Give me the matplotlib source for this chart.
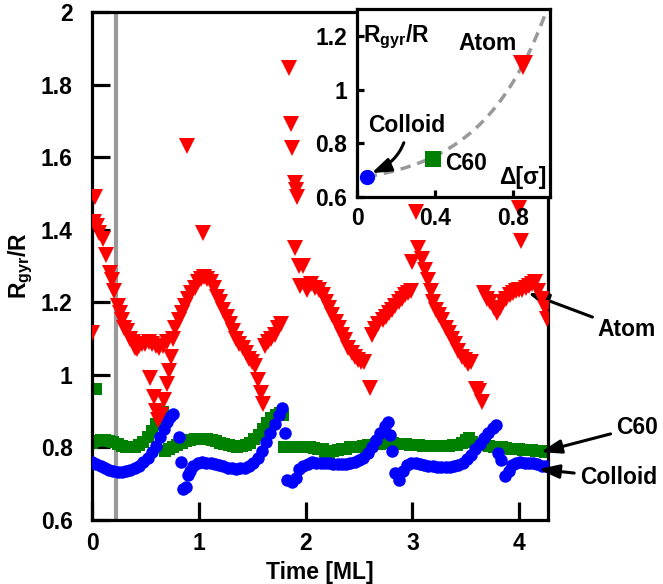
import numpy as np
import matplotlib
matplotlib.use("Agg")
import matplotlib.pyplot as plt

plt.rcParams['font.family'] = ['Liberation Sans', 'DejaVu Sans']
plt.rcParams['font.weight'] = 'bold'
plt.rcParams['mathtext.fontset'] = 'custom'
plt.rcParams['mathtext.rm'] = 'Liberation Sans:bold'
plt.rcParams['mathtext.it'] = 'Liberation Sans:bold'
plt.rcParams['mathtext.bf'] = 'Liberation Sans:bold'
plt.rcParams['mathtext.default'] = 'rm'

# Rgyr/R vs deposited amount, atom island
atom_t = [0.00, 0.03, 0.02, 0.05, 0.07, 0.10, 0.13, 0.17, 0.19, 0.21, 0.24, 0.26, 0.28,
          0.30, 0.33, 0.36, 0.38, 0.40, 0.42, 0.44, 0.47, 0.50, 0.53, 0.56, 0.60, 0.63,
          0.66, 0.70, 0.54, 0.58, 0.60, 0.62, 0.65, 0.67, 0.70, 0.72, 0.74, 0.76, 0.78,
          0.81, 0.84, 0.87, 0.90, 0.93, 0.96, 0.99, 1.02, 1.05, 1.08, 0.89, 1.04,
          1.11, 1.14, 1.17, 1.20, 1.23, 1.26, 1.29, 1.32, 1.35, 1.38, 1.41, 1.44, 1.47,
          1.50, 1.53, 1.55, 1.58, 1.60, 1.62, 1.65, 1.68, 1.71, 1.74, 1.77,
          1.84, 1.86, 1.87, 1.90, 1.91, 1.92, 1.90, 1.94, 1.98, 1.95, 2.01,
          2.05, 2.09, 2.13, 2.16, 2.19, 2.22, 2.25, 2.28, 2.31, 2.34, 2.37, 2.40, 2.43,
          2.46, 2.49, 2.52, 2.55, 2.60, 2.62, 2.65, 2.68, 2.72, 2.75, 2.78, 2.81, 2.84,
          2.87, 2.90, 2.93, 2.96, 2.99, 3.03, 3.05, 3.09, 3.00, 3.12, 3.15,
          3.17, 3.19, 3.22, 3.25, 3.28, 3.31, 3.34, 3.37, 3.40, 3.43, 3.46, 3.49, 3.52,
          3.55, 3.60, 3.62, 3.65, 3.67, 3.70, 3.73, 3.76, 3.79, 3.82, 3.85, 3.88, 3.91,
          3.94, 3.97, 4.00, 4.03, 4.06, 4.09, 4.12, 4.15, 4.18, 4.21, 4.24, 4.26,
          4.00, 4.02]
atom_r = [1.115, 1.49, 1.42, 1.41, 1.39, 1.375, 1.33, 1.28, 1.26, 1.23, 1.19, 1.17, 1.15,
          1.13, 1.12, 1.10, 1.09, 1.075, 1.07, 1.08, 1.085, 1.085, 1.09, 1.085, 1.08, 1.075,
          1.08, 1.09, 0.99, 0.94, 0.90, 0.875, 0.89, 0.93, 0.975, 1.01, 1.05, 1.10, 1.13,
          1.15, 1.17, 1.19, 1.21, 1.225, 1.24, 1.255, 1.265, 1.27, 1.265, 1.63, 1.39,
          1.255, 1.24, 1.215, 1.20, 1.18, 1.16, 1.14, 1.12, 1.10, 1.085, 1.075, 1.06, 1.045,
          1.035, 1.025, 0.985, 0.95, 0.92, 1.08, 1.09, 1.10, 1.11, 1.13, 1.14,
          1.845, 1.69, 1.625, 1.53, 1.51, 1.49, 1.35, 1.30, 1.30, 1.245, 1.235,
          1.25, 1.24, 1.235, 1.22, 1.20, 1.185, 1.165, 1.145, 1.13, 1.11, 1.095, 1.075, 1.06,
          1.05, 1.04, 1.035, 1.035, 0.965, 1.11, 1.125, 1.14, 1.15, 1.16, 1.17, 1.18, 1.19,
          1.20, 1.21, 1.22, 1.225, 1.23, 1.45, 1.35, 1.32, 1.31, 1.29, 1.26,
          1.23, 1.20, 1.18, 1.165, 1.15, 1.13, 1.115, 1.10, 1.085, 1.065, 1.05, 1.04, 1.03,
          1.035, 0.96, 0.955, 0.925, 1.225, 1.21, 1.20, 1.185, 1.17, 1.185, 1.20, 1.21,
          1.22, 1.225, 1.23, 1.235, 1.235, 1.24, 1.245, 1.25, 1.255, 1.23, 1.21, 1.185,
          1.155, 1.46, 1.37]

# C60 island
c60_t = [0.04, 0.00, 0.04, 0.08, 0.12, 0.16, 0.20, 0.24, 0.28, 0.32, 0.36, 0.40, 0.44,
         0.48, 0.52, 0.56, 0.60, 0.63, 0.66, 0.68, 0.72, 0.76, 0.80, 0.84, 0.88, 0.92,
         0.96, 1.00, 1.04, 1.08, 1.12, 1.16, 1.20, 1.24, 1.28, 1.32, 1.36, 1.40, 1.44,
         1.48, 1.52, 1.56, 1.60, 1.64, 1.68, 1.72, 1.76, 1.79, 1.80, 1.84, 1.88, 1.92,
         1.96, 2.00, 2.04, 2.08, 2.12, 2.16, 2.18, 2.22, 2.26, 2.30, 2.34, 2.38, 2.42,
         2.46, 2.50, 2.54, 2.58, 2.62, 2.66, 2.70, 2.74, 2.78, 2.82, 2.86, 2.90, 2.94,
         2.98, 3.02, 3.06, 3.10, 3.14, 3.18, 3.22, 3.26, 3.30, 3.34, 3.38, 3.42, 3.46,
         3.50, 3.53, 3.56, 3.60, 3.64, 3.68, 3.72, 3.76, 3.80, 3.84, 3.88, 3.92, 3.96,
         4.00, 4.04, 4.08, 4.12, 4.16, 4.20, 4.24, 4.28]
c60_r = [0.96, 0.812, 0.818, 0.82, 0.82, 0.818, 0.815, 0.81, 0.805, 0.80, 0.80, 0.802, 0.808,
         0.815, 0.828, 0.845, 0.865, 0.885, 0.898, 0.79, 0.795, 0.80, 0.808, 0.813, 0.818, 0.82,
         0.822, 0.823, 0.823, 0.822, 0.82, 0.817, 0.813, 0.81, 0.806, 0.803, 0.802, 0.803, 0.806,
         0.812, 0.822, 0.835, 0.85, 0.866, 0.88, 0.89, 0.895, 0.89, 0.80, 0.80, 0.80, 0.80,
         0.80, 0.80, 0.80, 0.798, 0.795, 0.795, 0.775, 0.785, 0.79, 0.792, 0.795, 0.797, 0.80,
         0.80, 0.802, 0.804, 0.806, 0.808, 0.81, 0.81, 0.811, 0.812, 0.812, 0.81, 0.81, 0.81,
         0.808, 0.807, 0.806, 0.805, 0.804, 0.803, 0.803, 0.803, 0.803, 0.804, 0.806, 0.808, 0.812,
         0.82, 0.826, 0.815, 0.81, 0.808, 0.806, 0.804, 0.802, 0.80, 0.80, 0.798, 0.797, 0.796,
         0.795, 0.794, 0.793, 0.792, 0.79, 0.79, 0.788, 0.786]

# colloid island
colloid_t = [0.00, 0.04, 0.08, 0.12, 0.16, 0.20, 0.24, 0.28, 0.32, 0.36, 0.40, 0.44, 0.48,
             0.52, 0.56, 0.60, 0.64, 0.67, 0.70, 0.73, 0.76, 0.81, 0.83, 0.85, 0.88, 0.90,
             0.92, 0.95, 0.99, 1.03, 1.07, 1.11, 1.15, 1.19, 1.23, 1.27, 1.31, 1.35, 1.39,
             1.43, 1.47, 1.51, 1.55, 1.59, 1.63, 1.67, 1.71, 1.75, 1.78, 1.81, 1.83, 1.87,
             1.91, 1.94, 1.98, 2.02, 2.06, 2.10, 2.14, 2.18, 2.22, 2.26, 2.30, 2.34, 2.38,
             2.42, 2.46, 2.50, 2.54, 2.58, 2.62, 2.66, 2.70, 2.74, 2.77, 2.79, 2.81, 2.84,
             2.87, 2.91, 2.95, 2.99, 3.03, 3.07, 3.11, 3.15, 3.19, 3.23, 3.27, 3.31, 3.35,
             3.39, 3.43, 3.47, 3.51, 3.55, 3.59, 3.63, 3.67, 3.71, 3.75, 3.78, 3.80, 3.83,
             3.87, 3.90, 3.93, 3.97, 4.01, 4.05, 4.09, 4.13, 4.17, 4.21, 4.25, 4.28]
colloid_r = [0.76, 0.755, 0.748, 0.742, 0.738, 0.735, 0.733, 0.733, 0.735, 0.738, 0.743, 0.75, 0.76,
             0.772, 0.788, 0.805, 0.83, 0.85, 0.87, 0.885, 0.893, 0.83, 0.76, 0.685, 0.692, 0.725,
             0.735, 0.75, 0.757, 0.76, 0.758, 0.757, 0.755, 0.752, 0.748, 0.744, 0.742, 0.741, 0.742,
             0.744, 0.75, 0.758, 0.77, 0.79, 0.815, 0.84, 0.865, 0.89, 0.91, 0.84, 0.71, 0.705,
             0.715, 0.74, 0.75, 0.755, 0.76, 0.758, 0.757, 0.758, 0.757, 0.755, 0.755, 0.755, 0.755,
             0.757, 0.76, 0.765, 0.772, 0.785, 0.80, 0.82, 0.84, 0.86, 0.87, 0.835, 0.79, 0.73,
             0.71, 0.735, 0.752, 0.757, 0.758, 0.755, 0.752, 0.75, 0.748, 0.746, 0.745, 0.745, 0.746,
             0.748, 0.752, 0.758, 0.768, 0.78, 0.795, 0.81, 0.825, 0.84, 0.853, 0.862, 0.785, 0.765,
             0.72, 0.735, 0.752, 0.757, 0.76, 0.758, 0.757, 0.757, 0.753, 0.75, 0.748, 0.745]

# inset: Rgyr/R vs particle size
inset_delta = [0.05, 0.39, 0.85]
inset_rgyr = [0.675, 0.74, 1.09]
fit_a, fit_b, fit_c = 0.634, 0.0357, 3.0

y_ticks = [0.6, 0.8, 1.0, 1.2, 1.4, 1.6, 1.8, 2.0]
y_labels = ['0.6', '0.8', '1', '1.2', '1.4', '1.6', '1.8', '2']

fs = 16.5
fig = plt.figure(figsize=(6.63, 5.84), dpi=100)
ax = fig.add_axes([0.1388, 0.1096, 0.6878, 0.8699])

ax.axvline(0.22, color='#999999', lw=3, zorder=1)
ax.plot(c60_t, c60_r, 's', color='#008000', ms=8.5, mew=0, zorder=2)
ax.plot(colloid_t, colloid_r, 'o', color='#0000ff', ms=9, mew=0, zorder=3)
ax.plot(atom_t, atom_r, 'v', color='#ff0000', ms=11.5, mew=0, zorder=4)

ax.set_xlim(0, 4.27)
ax.set_ylim(0.6, 2.0)
ax.set_xticks([0, 1, 2, 3, 4])
ax.set_yticks(y_ticks)
ax.set_yticklabels(y_labels)
for s in ax.spines.values():
    s.set_linewidth(2.3)
ax.tick_params(direction='in', length=13, width=2.3, labelsize=fs, top=False, right=False)
ax.tick_params(axis='y', pad=14)
ax.tick_params(axis='x', pad=9)
ax.set_xlabel('Time [ML]', fontsize=fs, fontweight='bold', labelpad=4)
ax.set_ylabel('R$_{gyr}$/R', fontsize=fs, fontweight='bold', labelpad=4)

arrow = dict(arrowstyle='-|>,head_width=0.25,head_length=0.75', color='k', lw=2.2,
             shrinkA=2, shrinkB=0)
ax.annotate('Atom', xy=(4.08, 1.226), xytext=(1.173, 0.374), textcoords='axes fraction',
            ha='center', va='center', fontsize=fs, fontweight='bold', arrowprops=arrow,
            annotation_clip=False)
ax.annotate('C60', xy=(4.2, 0.787), xytext=(1.195, 0.183), textcoords='axes fraction',
            ha='center', va='center', fontsize=fs, fontweight='bold', arrowprops=arrow,
            annotation_clip=False)
ax.annotate('Colloid', xy=(4.18, 0.74), xytext=(1.154, 0.083), textcoords='axes fraction',
            ha='center', va='center', fontsize=fs, fontweight='bold', arrowprops=arrow,
            annotation_clip=False)

# inset
ins = fig.add_axes([0.5385, 0.6627, 0.291, 0.3219])
ins.set_facecolor('white')
xs = np.linspace(inset_delta[0], 0.99, 100)
ins.plot(xs, fit_a + fit_b * np.exp(fit_c * xs), '--', color='#999999', lw=2.5,
         dashes=(3, 2), zorder=1)
ins.plot(inset_delta[0], inset_rgyr[0], 'o', color='#0000ff', ms=11, mew=0, zorder=3)
ins.plot(inset_delta[1], inset_rgyr[1], 's', color='#008000', ms=11.5, mew=0, zorder=3)
ins.plot(inset_delta[2], inset_rgyr[2], 'v', color='#ff0000', ms=14.5, mew=0, zorder=3)
ins.set_xlim(0, 0.99)
ins.set_ylim(0.6, 1.3)
ins.set_xticks([0, 0.4, 0.8])
ins.set_xticklabels(['0', '0.4', '0.8'])
ins.set_yticks([0.6, 0.8, 1.0, 1.2])
ins.set_yticklabels(['0.6', '0.8', '1', '1.2'])
for s in ins.spines.values():
    s.set_linewidth(2.3)
ins.tick_params(direction='in', length=5, width=2.3, labelsize=fs, pad=7)
ins.text(0.03, 0.93, 'R$_{gyr}$/R', transform=ins.transAxes, ha='left', va='top',
         fontsize=fs, fontweight='bold')
ins.text(0.67, 1.17, 'Atom', ha='center', va='center', fontsize=fs, fontweight='bold')
ins.text(0.45, 0.725, 'C60', ha='left', va='center', fontsize=fs, fontweight='bold')
ins.text(0.98, 0.04, 'Δ[σ]', transform=ins.transAxes, ha='right', va='bottom',
         fontsize=fs, fontweight='bold')
ins.annotate('Colloid', xy=(0.068, 0.687), xytext=(0.255, 0.865), ha='center', va='center',
             fontsize=fs, fontweight='bold',
             arrowprops=dict(arrowstyle='-|>,head_width=0.25,head_length=0.7', color='k', lw=2.2,
                             connectionstyle='angle3,angleA=90,angleB=23', shrinkA=2, shrinkB=1))

fig.savefig('out.png', dpi=100)
